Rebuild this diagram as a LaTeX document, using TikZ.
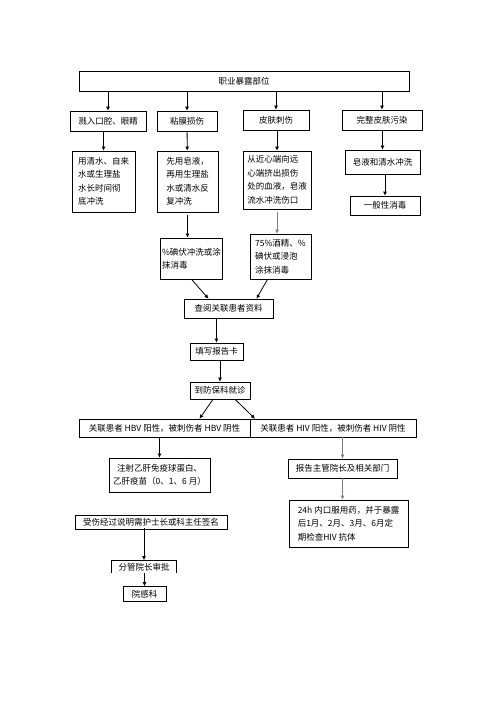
\documentclass[tikz,border=0pt]{standalone}
\usepackage{fontspec}
\newfontfamily\cjk{Noto Sans CJK SC}
\usetikzlibrary{arrows.meta}

\begin{document}
\begin{tikzpicture}[
    x=1pt, y=-1pt,
    box/.style={draw, rectangle, line width=0.6pt, align=center, inner sep=1.5pt, font=\cjk\fontsize{8.5}{13.5}\selectfont},
    textbox/.style={box, align=left},
    arrow/.style={-{Latex[length=4pt, width=4pt]}, line width=0.8pt},
    grayarrow/.style={arrow, gray}
]
\useasboundingbox (0,0) rectangle (496,702);

% Exposure site
\node[box, minimum width=330pt, minimum height=20pt] (exposure) at (244,81) {职业暴露部位};

% Kinds of exposure
\node[box, minimum width=76pt, minimum height=20pt] (splash) at (108,121) {溅入口腔、眼睛};
\node[box, minimum width=60pt, minimum height=20pt] (mucosa) at (187,121) {粘膜损伤};
\node[box, minimum width=66pt, minimum height=20pt] (needle) at (276,120) {皮肤刺伤};
\node[box, minimum width=80pt, minimum height=20pt] (skin) at (382,120) {完整皮肤污染};

% First aid
\node[textbox, minimum width=63pt, minimum height=61pt] (rinse) at (103.5,181.5) {用清水、自来\\水或生理盐\\水长时间彻\\底冲洗};
\node[textbox, minimum width=61pt, minimum height=61pt] (soap) at (187.5,181.5) {先用皂液，\\再用生理盐\\水或清水反\\复冲洗};
\node[textbox, minimum width=68pt, minimum height=58pt] (squeeze) at (277,180) {从近心端向远\\心端挤出损伤\\处的血液，皂液\\流水冲洗伤口};
\node[box, minimum width=75pt, minimum height=24pt] (wash) at (382.5,162) {皂液和清水冲洗};
\node[box, minimum width=70pt, minimum height=19pt] (disinfect) at (385,205.5) {一般性消毒};

% Disinfection
\node[textbox, minimum width=61pt, minimum height=41pt] (iodine) at (191.5,258.5) {\%碘伏冲洗或涂\\抹消毒};
\node[textbox, minimum width=61pt, minimum height=45pt] (alcohol) at (280.5,256.5) {75\%酒精、\%\\碘伏或浸泡\\涂抹消毒};

% Report
\node[box, minimum width=89pt, minimum height=19pt] (lookup) at (228.5,308.5) {查阅关联患者资料};
\node[box, minimum width=53pt, minimum height=17pt] (card) at (216.5,351.5) {填写报告卡};
\node[box, minimum width=60pt, minimum height=17pt] (visit) at (220,390.5) {到防保科就诊};

% Source patient
\node[box, minimum width=171pt, minimum height=18pt] (hbv) at (164.5,428) {关联患者 HBV 阳性，被刺伤者 HBV 阴性};
\node[box, minimum width=166pt, minimum height=18pt] (hiv) at (333,428) {关联患者 HIV 阳性，被刺伤者 HIV 阴性};

\node[box, minimum width=101pt, minimum height=34pt] (vaccine) at (159.5,475) {注射乙肝免疫球蛋白、\\乙肝疫苗（0、1、6 月）};
\node[box, minimum width=109pt, minimum height=19pt] (notify) at (342.5,468.5) {报告主管院长及相关部门};
\node[textbox, minimum width=119pt, minimum height=47pt] (drug) at (348.5,523.5) {24h 内口服用药，并于暴露\\后1月、2月、3月、6月定\\期检查HIV 抗体};

% Sign-off
\node[box, minimum width=152pt, minimum height=14pt] (signoff) at (151,522) {受伤经过说明需护士长或科主任签名};
\node[box, draw=none, minimum width=64pt, minimum height=11pt] (approve) at (144,567.5) {分管院长审批};
\draw[line width=0.6pt] (approve.south west) -- ([yshift=1.5pt]approve.north west) -- ([yshift=1.5pt]approve.north east) -- (approve.south east);
\node[box, minimum width=43pt, minimum height=15pt] (infect) at (144.5,594) {院感科};

% Arrows
\foreach \k in {splash, mucosa, needle, skin}
    \draw[arrow] (exposure.south -| \k) -- (\k.north);
\draw[arrow] (splash.south -| rinse) -- (rinse.north);
\draw[arrow] (mucosa) -- (soap);
\draw[arrow] (needle.south -| squeeze) -- (squeeze.north);
\draw[arrow] (skin.south -| wash) -- (wash.north);
\draw[arrow] (wash.south -| disinfect) -- (disinfect.north);
\draw[arrow, shorten <=3pt] (soap.south) -- (soap.south |- iodine.north);
\draw[grayarrow, shorten <=3pt] (squeeze.south) -- (squeeze.south |- alcohol.north);
\draw[arrow] (iodine.south) -- ([xshift=-20pt]lookup.north);
\draw[arrow] ([xshift=-13pt]alcohol.south) -- ([xshift=28pt]lookup.north);
\draw[arrow] (lookup.south -| card) -- (card.north);
\draw[arrow] (card.south -| visit) -- (visit.north);
\draw[arrow] ([xshift=-7pt]visit.south) -- ([xshift=35pt]hbv.north);
\draw[arrow] ([xshift=15pt]visit.south) -- ([xshift=-78pt]hiv.north);
\draw[arrow] (hbv.south -| vaccine) -- (vaccine.north);
\draw[grayarrow] (hiv.south -| notify) -- (notify.north);
\draw[grayarrow] (notify.south) -- (notify.south |- drug.north);
\draw[arrow] ([yshift=1.5pt]signoff.south -| approve) -- ([yshift=1.5pt]approve.north);
\draw[arrow] (approve.south -| infect) -- (infect.north);

\end{tikzpicture}
\end{document}
